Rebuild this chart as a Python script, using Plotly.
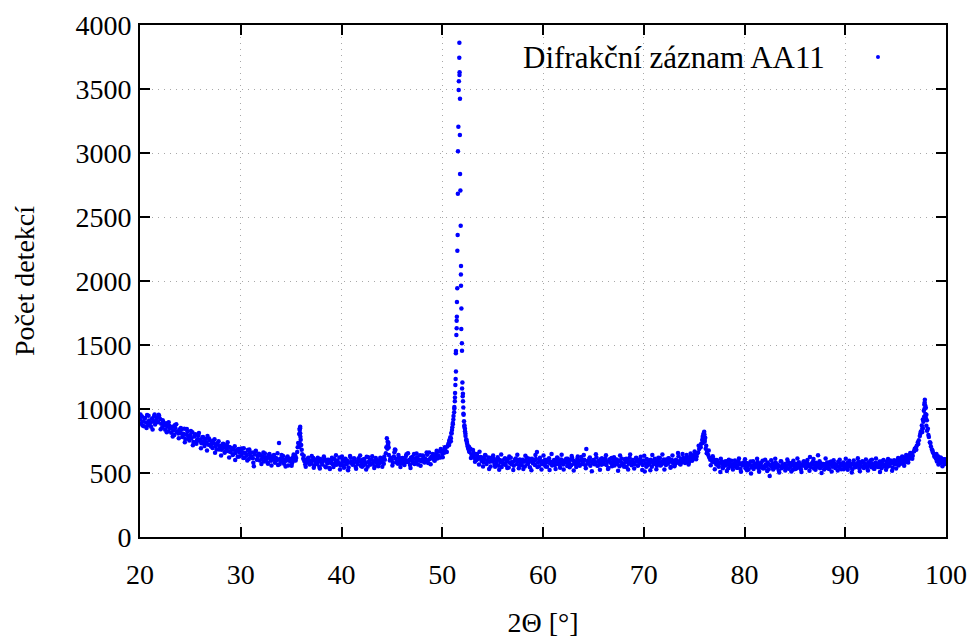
import numpy as np
import plotly.graph_objects as go

# diffractometer scan: counts every 0.1 deg, one list per 10 deg of 2Theta
STEP = 0.1

counts_20_30 = [
    918, 887, 941, 902, 866, 929, 895, 953, 874, 910,
    892, 861, 926, 903, 944, 878, 915, 935, 897, 948,
    921, 884, 856, 903, 872, 838, 889, 861, 827, 870,
    847, 815, 861, 832, 797, 851, 880, 823, 808, 840,
    812, 837, 781, 806, 845, 765, 798, 822, 789, 754,
    796, 771, 819, 743, 785, 803, 728, 764, 791, 752,
    760, 732, 779, 748, 711, 766, 739, 790, 721, 755,
    718, 745, 696, 731, 763, 709, 684, 727, 749, 703,
    710, 681, 725, 697, 658, 716, 689, 741, 670, 703,
    665, 692, 640, 681, 709, 656, 674, 627, 688, 661,
]
counts_30_40 = [
    671, 643, 662, 694, 620, 652, 638, 679, 609, 657,
    631, 660, 615, 552, 645, 674, 603, 629, 651, 597,
    638, 611, 627, 589, 653, 604, 622, 572, 640, 614,
    596, 629, 608, 641, 580, 617, 599, 563, 734, 612,
    587, 615, 633, 572, 603, 596, 621, 558, 609, 590,
    611, 578, 625, 597, 639, 618, 664, 735, 805, 862,
    718, 646, 612, 594, 569, 606, 585, 620, 577, 597,
    574, 599, 617, 558, 586, 605, 571, 592, 548, 610,
    583, 566, 596, 614, 551, 589, 575, 602, 540, 580,
    595, 571, 547, 609, 582, 565, 598, 578, 622, 559,
]
counts_40_50 = [
    577, 601, 556, 588, 612, 569, 594, 543, 583, 620,
    590, 565, 579, 608, 548, 586, 571, 615, 594, 557,
    582, 603, 560, 591, 574, 627, 549, 586, 598, 568,
    606, 575, 589, 552, 618, 583, 564, 597, 577, 610,
    588, 611, 572, 603, 655, 772, 718, 641, 598, 620,
    604, 581, 629, 684, 612, 590, 573, 622, 599, 578,
    615, 593, 571, 607, 632, 586, 654, 601, 563, 620,
    596, 578, 648, 611, 587, 624, 567, 603, 638, 592,
    605, 633, 586, 614, 597, 642, 579, 660, 612, 625,
    618, 640, 601, 629, 655, 613, 636, 667, 622, 676,
]
counts_50_60 = [
    648, 672, 659, 690, 666, 707, 724, 756, 779, 812,
    857, 918, 1004, 1187, 1578, 2237, 3205, 3862, 2708, 1786,
    1208, 962, 873, 809, 762, 721, 698, 664, 690, 645,
    632, 659, 618, 647, 601, 629, 612, 666, 625, 594,
    617, 583, 609, 636, 571, 598, 622, 587, 551, 604,
    589, 612, 566, 595, 578, 623, 557, 601, 584, 546,
    598, 575, 614, 562, 590, 607, 543, 581, 620, 569,
    584, 557, 599, 613, 571, 592, 538, 606, 578, 561,
    603, 588, 551, 596, 619, 572, 585, 545, 598, 611,
    576, 593, 562, 609, 664, 583, 552, 620, 589, 571,
]
counts_60_70 = [
    592, 567, 604, 581, 549, 598, 616, 575, 587, 558,
    579, 601, 563, 594, 622, 570, 588, 541, 605, 584,
    566, 597, 583, 612, 554, 589, 576, 603, 561, 618,
    595, 573, 588, 547, 609, 582, 566, 599, 625, 571,
    586, 603, 560, 688, 594, 575, 611, 557, 590, 578,
    601, 569, 584, 622, 556, 593, 579, 608, 565, 587,
    574, 596, 611, 563, 588, 540, 603, 581, 617, 568,
    593, 559, 582, 606, 571, 598, 553, 589, 614, 576,
    566, 608, 585, 547, 596, 573, 620, 590, 561, 601,
    582, 569, 614, 591, 557, 603, 578, 626, 586, 563,
]
counts_70_80 = [
    597, 512, 576, 609, 561, 588, 574, 603, 549, 591,
    570, 612, 584, 556, 596, 579, 618, 563, 590, 574,
    605, 581, 562, 598, 573, 614, 587, 548, 601, 579,
    589, 566, 603, 580, 656, 592, 571, 609, 586, 617,
    598, 578, 621, 593, 607, 584, 629, 612, 596, 638,
    619, 641, 608, 652, 661, 687, 703, 728, 758, 795,
    823, 776, 712, 668, 641, 622, 604, 618, 587, 609,
    584, 601, 567, 593, 556, 579, 508, 590, 571, 553,
    574, 559, 591, 566, 538, 582, 557, 596, 549, 570,
    553, 578, 562, 541, 589, 566, 531, 574, 558, 583,
]
counts_80_90 = [
    561, 538, 579, 552, 527, 566, 590, 545, 558, 532,
    573, 549, 562, 586, 534, 557, 571, 543, 595, 551,
    540, 567, 555, 583, 529, 477, 561, 549, 576, 538,
    559, 581, 544, 566, 520, 553, 592, 537, 562, 548,
    570, 543, 557, 589, 533, 564, 550, 578, 526, 560,
    547, 572, 538, 561, 584, 553, 529, 567, 556, 591,
    562, 540, 578, 551, 566, 625, 545, 570, 587, 535,
    556, 581, 548, 638, 569, 537, 575, 552, 563, 528,
    568, 544, 583, 559, 532, 571, 590, 549, 561, 576,
    539, 565, 552, 587, 546, 573, 529, 560, 582, 550,
]
counts_90_100 = [
    563, 541, 579, 554, 596, 548, 569, 530, 575, 557,
    544, 571, 560, 588, 535, 566, 553, 592, 548, 577,
    569, 552, 539, 583, 561, 598, 545, 571, 556, 534,
    580, 558, 573, 546, 590, 563, 538, 575, 601, 552,
    566, 589, 548, 572, 556, 597, 578, 543, 583, 569,
    592, 571, 604, 558, 586, 613, 575, 597, 582, 620,
    601, 586, 628, 609, 641, 618, 652, 635, 668, 690,
    697, 712, 738, 756, 789, 824, 871, 918, 986, 1072,
    1010, 912, 846, 782, 741, 708, 683, 661, 648, 627,
    611, 589, 630, 602, 575, 618, 593, 584, 607, 571,
    589,
]

# second pass of readings between the grid steps (every 0.2 deg, offset 0.05)
HALF_STEP = 0.2
HALF_OFFSET = 0.05

half_20_30 = [
    958, 871, 926, 852, 947, 893, 839, 958, 905, 956,
    842, 913, 880, 818, 896, 858, 786, 874, 821, 771,
    852, 790, 741, 843, 768, 829, 716, 794, 754, 812,
    694, 781, 727, 676, 769, 708, 751, 659, 733, 683,
    637, 729, 668, 712, 621, 694, 646, 601, 683, 629,
]
half_30_40 = [
    691, 618, 657, 598, 683, 627, 580, 668, 607, 645,
    571, 660, 624, 583, 649, 559, 634, 596, 655, 568,
    640, 588, 551, 629, 607, 556, 645, 598, 701, 845,
    681, 634, 548, 611, 567, 632, 541, 599, 620, 536,
    587, 628, 545, 604, 531, 619, 562, 638, 575, 527,
]
half_40_50 = [
    628, 541, 597, 522, 633, 574, 616, 533, 589, 637,
    548, 609, 527, 624, 566, 631, 539, 601, 553, 620,
    548, 629, 702, 736, 611, 559, 662, 583, 641, 547,
    618, 563, 647, 585, 540, 626, 571, 652, 598, 556,
    637, 582, 661, 603, 569, 648, 596, 674, 621, 687,
]
half_50_60 = [
    623, 701, 664, 735, 748, 880, 1060, 1720, 3560, 2050,
    1120, 845, 742, 705, 618, 679, 587, 648, 566, 623,
    551, 641, 596, 532, 618, 637, 548, 604, 526, 645,
    571, 613, 539, 629, 584, 524, 608, 643, 556, 597,
    531, 635, 569, 612, 522, 589, 641, 547, 603, 528,
]
half_60_70 = [
    636, 551, 604, 523, 648, 589, 531, 617, 562, 642,
    528, 596, 611, 545, 633, 519, 574, 629, 556, 601,
    640, 537, 585, 622, 513, 598, 646, 559, 526, 615,
    571, 639, 532, 607, 553, 624, 590, 518, 637, 566,
    549, 612, 527, 644, 580, 535, 619, 561, 603, 524,
]
half_70_80 = [
    634, 548, 597, 521, 641, 583, 530, 619, 559, 645,
    527, 605, 616, 541, 637, 552, 588, 631, 566, 649,
    598, 641, 566, 652, 604, 667, 628, 712, 702, 782,
    758, 655, 675, 561, 631, 529, 602, 548, 611, 537,
    590, 515, 604, 562, 528, 597, 541, 613, 509, 572,
]
half_80_90 = [
    608, 521, 573, 497, 592, 546, 612, 509, 581, 536,
    603, 515, 567, 599, 528, 611, 542, 503, 589, 558,
    520, 606, 577, 512, 596, 532, 614, 548, 507, 585,
    566, 601, 518, 575, 609, 525, 553, 592, 500, 571,
    613, 537, 584, 511, 599, 546, 519, 604, 562, 530,
]
half_90_100 = [
    611, 526, 578, 503, 597, 551, 616, 514, 585, 540,
    606, 520, 571, 603, 533, 614, 546, 508, 592, 563,
    526, 610, 581, 517, 600, 535, 618, 574, 628, 556,
    641, 583, 656, 612, 672, 681, 726, 807, 845, 1035,
    955, 796, 735, 676, 629, 648, 567, 621, 553, 608,
]

# extra points on the steep peak flanks (measured between grid steps)
peak_theta = [
    51.69, 51.72, 51.71, 51.63, 51.76, 51.75, 51.56, 51.77, 51.55, 51.83,
    51.53, 51.86, 51.86, 51.49, 51.46, 51.43, 51.43, 51.89, 51.95, 51.36,
    51.35, 51.96, 51.36, 51.33, 51.97, 52.03, 52.06, 51.27, 51.26, 51.20,
    51.18, 51.12, 51.05, 50.97, 50.93, 50.85, 50.76, 50.68, 52.09, 52.12,
    52.16, 52.19, 52.26, 52.31, 52.37, 52.45, 52.52, 52.58, 52.66,
    35.85, 35.88, 35.90, 35.92, 35.86, 35.95, 35.82,
    44.58, 44.62, 44.55, 44.68, 45.35,
    75.95, 76.02, 75.90, 76.05, 75.85, 76.15,
    97.88, 97.93, 97.86, 97.95, 97.83, 98.00, 97.75, 98.05, 97.70, 98.12, 97.65,
]
peak_counts = [
    3745, 3630, 3609, 3492, 3424, 3141, 3013, 2836, 2682, 2432,
    2359, 2117, 1963, 1943, 1836, 1690, 1630, 1625, 1513, 1453,
    1435, 1455, 1292, 1234, 1160, 1100, 1060, 1125, 1090, 1016,
    975, 945, 890, 835, 808, 772, 745, 718, 1012, 955,
    905, 862, 826, 790, 758, 735, 708, 690, 672,
    835, 849, 810, 784, 732, 760, 706,
    745, 719, 690, 700, 680,
    810, 800, 770, 745, 735, 690,
    1050, 1030, 1000, 960, 940, 930, 900, 870, 850, 830, 820,
]

segments = [counts_20_30, counts_30_40, counts_40_50, counts_50_60,
            counts_60_70, counts_70_80, counts_80_90, counts_90_100]
half_segments = [half_20_30, half_30_40, half_40_50, half_50_60,
                 half_60_70, half_70_80, half_80_90, half_90_100]

theta, counts = [], []
for k, seg in enumerate(segments):
    start = 20 + 10 * k
    theta.extend(np.round(start + STEP * np.arange(len(seg)), 2).tolist())
    counts.extend(seg)
for k, seg in enumerate(half_segments):
    start = 20 + 10 * k + HALF_OFFSET
    theta.extend(np.round(start + HALF_STEP * np.arange(len(seg)), 2).tolist())
    counts.extend(seg)
theta += peak_theta
counts += peak_counts

FONT = "'Liberation Serif', 'DejaVu Serif', serif"
BLUE = "#0000ff"

fig = go.Figure()
fig.add_trace(go.Scatter(x=theta, y=counts, mode="markers",
                         marker=dict(color=BLUE, size=4.5, line=dict(width=0)),
                         name="Difrakční záznam AA11", showlegend=False))

axis_common = dict(showline=True, linecolor="black", linewidth=2, mirror="ticks",
                   ticks="inside", ticklen=10, tickwidth=1.5, tickcolor="black",
                   showgrid=True, gridcolor="#a8a8a8", griddash="1px,5px", gridwidth=1.2,
                   zeroline=False, automargin=False,
                   tickfont=dict(family=FONT, size=28, color="black"))

fig.update_xaxes(range=[20, 100], tick0=20, dtick=10, ticklabelstandoff=11,
                 title=dict(text="2Θ [°]", font=dict(family=FONT, size=28, color="black"),
                            standoff=24),
                 **axis_common)
fig.update_yaxes(range=[0, 4000], tick0=0, dtick=500, ticklabelstandoff=1,
                 title=dict(text="Počet detekcí", font=dict(family=FONT, size=28, color="black"),
                            standoff=33),
                 **axis_common)

# gnuplot style key: text first, sample point to the right
fig.add_annotation(x=0.8524, y=0.9375, xref="paper", yref="paper", xanchor="right",
                   yanchor="middle", showarrow=False, text="Difrakční záznam AA11",
                   font=dict(family=FONT, size=31, color="black"))
fig.add_shape(type="circle", xref="paper", yref="paper", xsizemode="pixel",
              ysizemode="pixel", xanchor=0.9156, yanchor=0.9375,
              x0=-2, x1=2, y0=-2, y1=2, fillcolor=BLUE, line=dict(width=0))

# page body adds an 8 px offset, so the figure is 8 px smaller and shifted
fig.update_layout(width=969, height=636, plot_bgcolor="white", paper_bgcolor="white",
                  margin=dict(l=132, r=31, t=17, b=107),
                  font=dict(family=FONT, color="black"))

fig.write_html("out.html")
